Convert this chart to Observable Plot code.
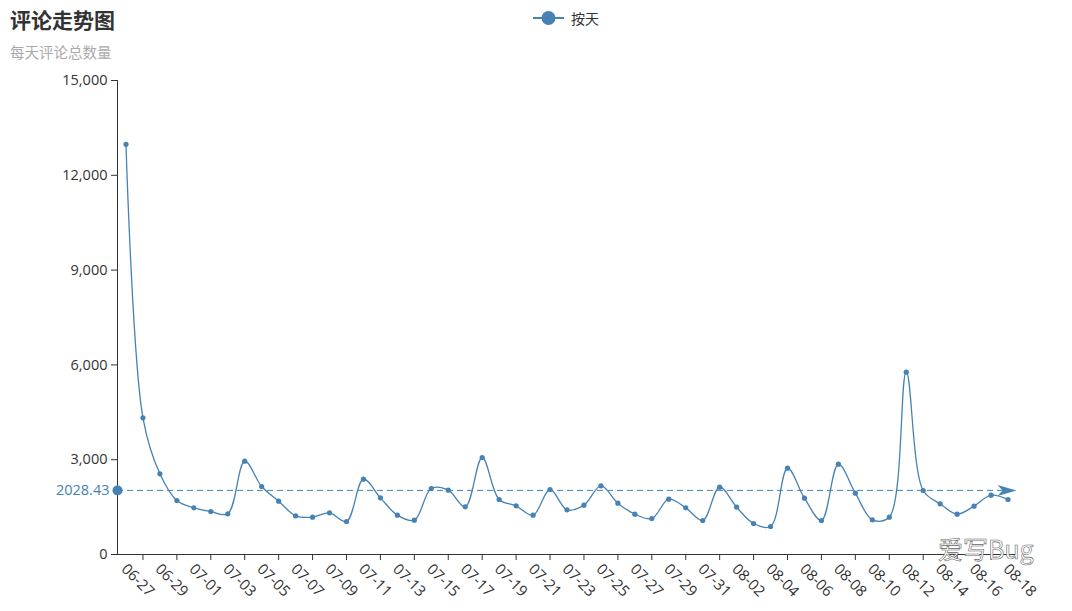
<!DOCTYPE html>
<html>
<head>
<meta charset="utf-8">
<script src="https://cdn.jsdelivr.net/npm/d3@7"></script>
<script src="https://cdn.jsdelivr.net/npm/@observablehq/plot@0.6"></script>
<style>
  html, body { margin: 0; padding: 0; background: #fff; }
  #wrap { position: relative; width: 1072px; height: 611px; overflow: hidden;
          font-family: "Open Sans", "Noto Sans CJK SC", sans-serif; }
  #chart { position: absolute; left: 0; top: 0; }
  #title { position: absolute; left: 10px; top: 5px; font-size: 21px; font-weight: bold; color: #333;
           font-family: "Noto Sans CJK SC", sans-serif; line-height: 28px; }
  #subtitle { position: absolute; left: 10px; top: 42px; font-size: 14.5px; color: #aaa;
              font-family: "Noto Sans CJK SC", sans-serif; line-height: 20px; }
  #legend { position: absolute; left: 533px; top: 7px; height: 22px; display: flex; align-items: center;
            font-family: "Noto Sans CJK SC", sans-serif; font-size: 14px; color: #333; }
  #legend svg { margin-right: 7px; }
  #watermark { position: absolute; left: 938px; top: 531px; font-size: 25px; color: #fff;
               -webkit-text-stroke: 0.6px #666; font-family: "Noto Sans CJK SC", sans-serif; line-height: 34px; }
</style>
</head>
<body>
<div id="wrap">
  <div id="chart"></div>
  <div id="title"></div>
  <div id="subtitle"></div>
  <div id="legend"></div>
  <div id="watermark"></div>
</div>
<script>
// ---- data ----
const titleText = "评论走势图";
const subtitleText = "每天评论总数量";
const seriesName = "按天";
const watermarkText = "爱写Bug";

const dates = [
  "06-27","06-28","06-29","06-30",
  "07-01","07-02","07-03","07-04","07-05","07-06","07-07","07-08","07-09","07-10",
  "07-11","07-12","07-13","07-14","07-15","07-16","07-17","07-18","07-19","07-20",
  "07-21","07-22","07-23","07-24","07-25","07-26","07-27","07-28","07-29","07-30","07-31",
  "08-01","08-02","08-03","08-04","08-05","08-06","08-07","08-08","08-09","08-10",
  "08-11","08-12","08-13","08-14","08-15","08-16","08-17","08-18"
];
const comments = [
  12980, 4326, 2554, 1709,
  1477, 1361, 1287, 2953, 2152, 1688, 1224, 1181, 1319, 1044,
  2384, 1793, 1245, 1086, 2089, 2036, 1509, 3070, 1741, 1540,
  1245, 2057, 1414, 1561, 2173, 1625, 1277, 1139, 1751, 1477, 1076,
  2131, 1498, 981, 886, 2732, 1783, 1076, 2859, 1941, 1097,
  1181, 5770, 2025, 1604, 1277, 1530, 1878, 1741
];
const average = 2028.43;
const yTicks = [0, 3000, 6000, 9000, 12000, 15000];

// ---- build ----
const color = "steelblue";
const data = dates.map((d, i) => ({date: d, value: comments[i]}));
const labelDates = dates.filter((d, i) => i % 2 === 0);
const tickDates = dates.filter((d, i) => i % 2 === 1);

// filled arrow with a notch, tip at origin pointing right
const arrowSymbol = {
  draw(context, size) {
    const s = Math.sqrt(size / Math.PI) / 8;
    context.moveTo(0, 0);
    context.lineTo(-19 * s, -5.5 * s);
    context.lineTo(-14 * s, 0);
    context.lineTo(-19 * s, 5.5 * s);
    context.closePath();
  }
};

const font = "'Open Sans', 'Noto Sans CJK SC', sans-serif";

const chart = Plot.plot({
  width: 1072,
  height: 611,
  marginLeft: 117,
  marginRight: 56,
  marginTop: 80,
  marginBottom: 57,
  style: {fontFamily: font, fontSize: "14px", color: "#333", background: "transparent"},
  x: {type: "point", domain: dates, padding: 0.5, axis: null},
  y: {domain: [0, 15000], axis: null},
  marks: [
    Plot.frame({anchor: "left", stroke: "#333"}),
    Plot.ruleY([0], {stroke: "#333"}),
    Plot.axisY(yTicks, {tickSize: 6, tickPadding: 4, tickFormat: d3.format(","), fontSize: 14.5,
      fill: "#333", stroke: "#333", label: null}),
    Plot.axisX(tickDates, {tickSize: 6, tickFormat: () => "", stroke: "#333", label: null}),
    Plot.text(labelDates, {x: d => d, frameAnchor: "bottom", text: d => d, textAnchor: "start",
      lineAnchor: "middle", rotate: 45, dy: 12, dx: -2, fontSize: 15, fill: "#333"}),
    Plot.ruleY([average], {y: d => d, stroke: color, strokeDasharray: "6,4", strokeWidth: 1}),
    Plot.line(data, {x: "date", y: "value", stroke: color, strokeWidth: 1.3, curve: "catmull-rom"}),
    Plot.dot(data, {x: "date", y: "value", r: 2.6, fill: color}),
    Plot.dot([average], {y: d => d, frameAnchor: "left", r: 5, fill: color}),
    Plot.text([average], {y: d => d, frameAnchor: "left", text: d => d3.format(".2f")(d),
      textAnchor: "end", dx: -8, fontSize: 14.5, fill: color}),
    Plot.dot([average], {y: d => d, frameAnchor: "right", r: 8, fill: color, symbol: arrowSymbol})
  ]
});
document.getElementById("chart").appendChild(chart);

document.getElementById("title").textContent = titleText;
document.getElementById("subtitle").textContent = subtitleText;
document.getElementById("watermark").textContent = watermarkText;
const lg = document.getElementById("legend");
lg.innerHTML = `<svg width="31" height="16"><line x1="0" y1="8" x2="31" y2="8" stroke="${color}" stroke-width="2"/><circle cx="15.5" cy="8" r="7" fill="${color}"/></svg><span></span>`;
lg.querySelector("span").textContent = seriesName;
</script>
</body>
</html>
